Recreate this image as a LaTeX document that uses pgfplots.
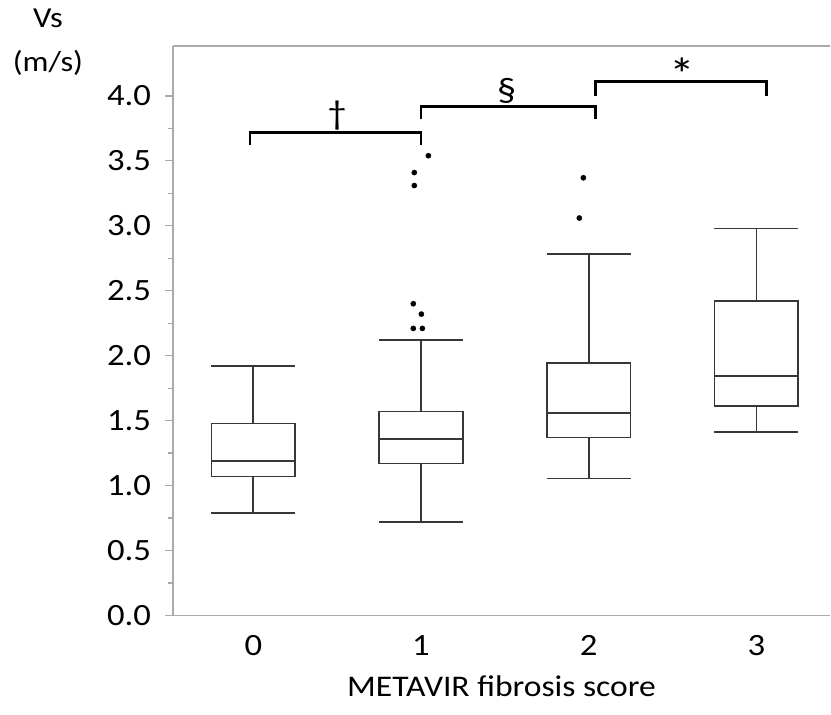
\documentclass[border=0pt]{standalone}
\usepackage{fontspec}
\setmainfont{Carlito}[FakeStretch=1.12]
\usepackage{pgfplots}
\pgfplotsset{compat=1.18}
\usepgfplotslibrary{statistics}

\definecolor{axgray}{RGB}{170,170,170}
\definecolor{boxline}{RGB}{55,55,55}

\begin{document}
\fontsize{29}{44}\selectfont
\begin{tikzpicture}
\begin{axis}[
    scale only axis,
    width=658pt, height=570pt,
    xmin=-0.48, xmax=3.44,
    ymin=0, ymax=4.385,
    clip=false,
    axis x line*=bottom, axis y line*=left,
    axis line style={axgray, line width=1.6pt},
    xtick={0,1,2,3},
    xtick style={draw=none},
    ytick={0,0.5,...,4},
    minor y tick num=1,
    tick align=outside,
    major tick length=8pt, minor tick length=5pt,
    every tick/.style={axgray, line width=1.2pt},
    /pgf/number format/assume math mode=true,
    yticklabel={\pgfmathprintnumber[fixed, fixed zerofill, precision=1]{\tick}},
    ticklabel style={font=\fontsize{31}{36}\selectfont, black},
    xticklabel style={yshift=-2pt},
    yticklabel style={xshift=-4pt},
    xlabel={METAVIR fibrosis score},
    xlabel style={font=\fontsize{30}{34}\selectfont, yshift=-1pt},
    boxplot/draw direction=y,
    boxplot/box extend=0.5,
    boxplot/whisker extend=0.5,
]
% box plots
\addplot[boxline, line width=1.7pt, boxplot prepared={draw position=0,
    lower whisker=0.79, lower quartile=1.07, median=1.19,
    upper quartile=1.477, upper whisker=1.92}] coordinates {};
\addplot[boxline, line width=1.7pt, boxplot prepared={draw position=1,
    lower whisker=0.72, lower quartile=1.17, median=1.36,
    upper quartile=1.57, upper whisker=2.12}] coordinates {};
\addplot[boxline, line width=1.7pt, boxplot prepared={draw position=2,
    lower whisker=1.054, lower quartile=1.37, median=1.56,
    upper quartile=1.946, upper whisker=2.785}] coordinates {};
\addplot[boxline, line width=1.7pt, boxplot prepared={draw position=3,
    lower whisker=1.415, lower quartile=1.61, median=1.846,
    upper quartile=2.42, upper whisker=2.98}] coordinates {};

% outliers
\addplot[only marks, mark=*, mark size=2.6pt, black] coordinates {
    (1.044,3.54) (0.96,3.41) (0.96,3.31) (0.954,2.40) (1.002,2.32)
    (0.954,2.21) (1.008,2.21)
    (1.968,3.37) (1.944,3.06)
};

% significance brackets
\addplot[black, line width=2.4pt, line join=miter] coordinates {(-0.02,3.62) (-0.02,3.72) (1.0,3.72) (1.0,3.62)};
\addplot[black, line width=2.4pt, line join=miter] coordinates {(1.0,3.82) (1.0,3.92) (2.04,3.92) (2.04,3.82)};
\addplot[black, line width=2.4pt, line join=miter] coordinates {(2.04,4.0) (2.04,4.11) (3.06,4.11) (3.06,4.0)};
\node[font=\fontsize{34}{34}\selectfont] at (axis cs:0.5,3.85) {†};
\node[font=\fontsize{34}{34}\selectfont] at (axis cs:1.51,4.04) {§};
\node[font=\fontsize{46}{46}\selectfont] at (axis cs:2.56,4.17) {*};

% top frame line
\draw[axgray, line width=1.6pt] (rel axis cs:0,1) -- (rel axis cs:1,1);

% y label
\node[align=center, inner sep=0pt, font=\fontsize{29}{44}\selectfont] at ([shift={(-125pt,4pt)}]rel axis cs:0,1) {Vs\\(m/s)};

% picture bounds
\path ([shift={(-173pt,46pt)}]rel axis cs:0,1) ([shift={(0pt,-99pt)}]rel axis cs:1,0);
\end{axis}
\end{tikzpicture}
\end{document}
